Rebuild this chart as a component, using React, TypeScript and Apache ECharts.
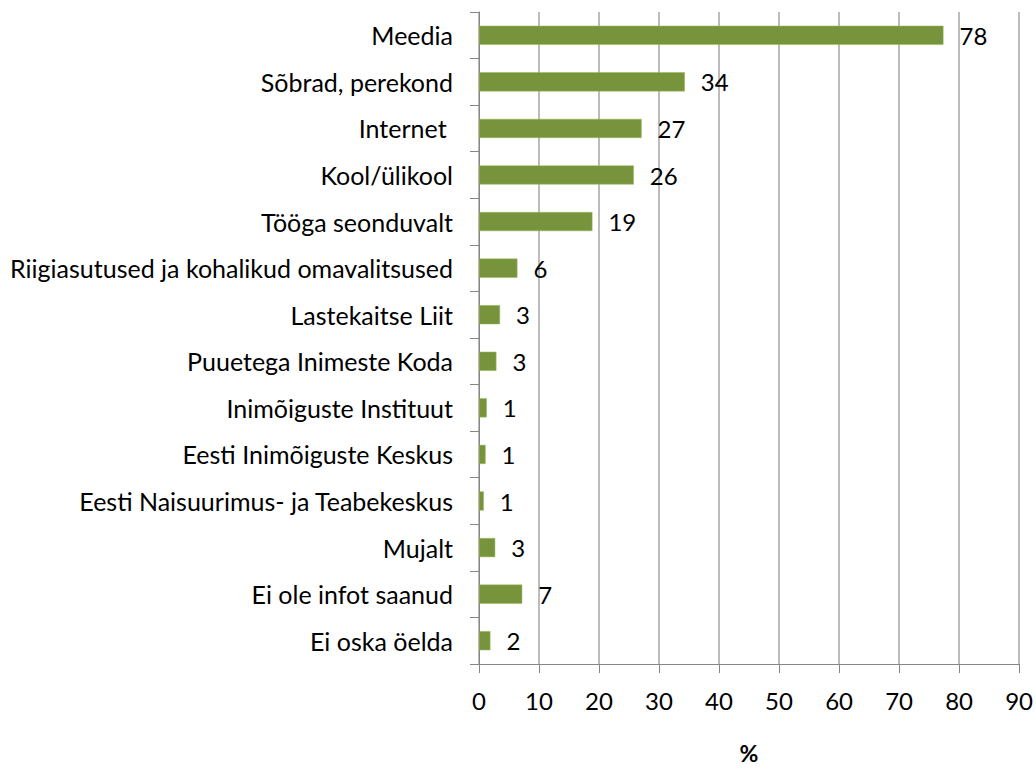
import React, { useEffect, useRef } from "react";
import * as echarts from "echarts";

const categories = [
  "Meedia",
  "Sõbrad, perekond",
  "Internet ",
  "Kool/ülikool",
  "Tööga seonduvalt",
  "Riigiasutused ja kohalikud omavalitsused",
  "Lastekaitse Liit",
  "Puuetega Inimeste Koda",
  "Inimõiguste Instituut",
  "Eesti Inimõiguste Keskus",
  "Eesti Naisuurimus- ja Teabekeskus",
  "Mujalt",
  "Ei ole infot saanud",
  "Ei oska öelda",
];
const values = [77.4, 34.3, 27.1, 25.8, 18.9, 6.4, 3.5, 2.9, 1.3, 1.1, 0.8, 2.7, 7.2, 1.9];
const valueLabels = ["78", "34", "27", "26", "19", "6", "3", "3", "1", "1", "1", "3", "7", "2"];
const xTicks = [0, 10, 20, 30, 40, 50, 60, 70, 80, 90];
const axisTitle = "%";

const FONT = "Lato";

export default function App() {
  const ref = useRef<HTMLDivElement>(null);
  useEffect(() => {
    if (!ref.current) return;
    const chart = echarts.init(ref.current, undefined, { renderer: "svg" });
    chart.setOption({
      animation: false,
      backgroundColor: "#ffffff",
      textStyle: { fontFamily: FONT },
      grid: { left: 479, right: 16, top: 12, bottom: 100, containLabel: false },
      xAxis: {
        type: "value",
        min: xTicks[0],
        max: xTicks[xTicks.length - 1],
        interval: 10,
        name: axisTitle,
        nameLocation: "middle",
        nameGap: 77,
        nameTextStyle: { fontFamily: FONT, fontSize: 23, fontWeight: "bold", color: "#000" },
        axisLine: { show: true, lineStyle: { color: "#868686", width: 1 } },
        axisTick: { show: true, length: 9, lineStyle: { color: "#868686" } },
        axisLabel: { fontFamily: FONT, fontSize: 24, color: "#000", margin: 24 },
        splitLine: { show: true, lineStyle: { color: "#A6A6A6", width: 1.5 } },
      },
      yAxis: {
        type: "category",
        inverse: true,
        data: categories,
        axisLine: { show: true, lineStyle: { color: "#868686", width: 1 } },
        axisTick: { show: true, length: 9, lineStyle: { color: "#868686" } },
        axisLabel: { fontFamily: FONT, fontSize: 25, color: "#000", margin: 26 },
        splitLine: { show: false },
      },
      series: [
        {
          type: "bar",
          data: values,
          barWidth: "41%",
          itemStyle: { color: "#77933C", borderColor: "#9BBB59", borderWidth: 0.5 },
          label: {
            show: true,
            position: "right",
            distance: 16,
            fontFamily: FONT,
            fontSize: 24,
            color: "#000",
            formatter: (p: any) => valueLabels[p.dataIndex],
          },
        },
      ],
    });
    return () => chart.dispose();
  }, []);
  return (
    <div
      ref={ref}
      style={{ position: "absolute", left: 0, top: 0, width: 1036, height: 769 }}
    />
  );
}
